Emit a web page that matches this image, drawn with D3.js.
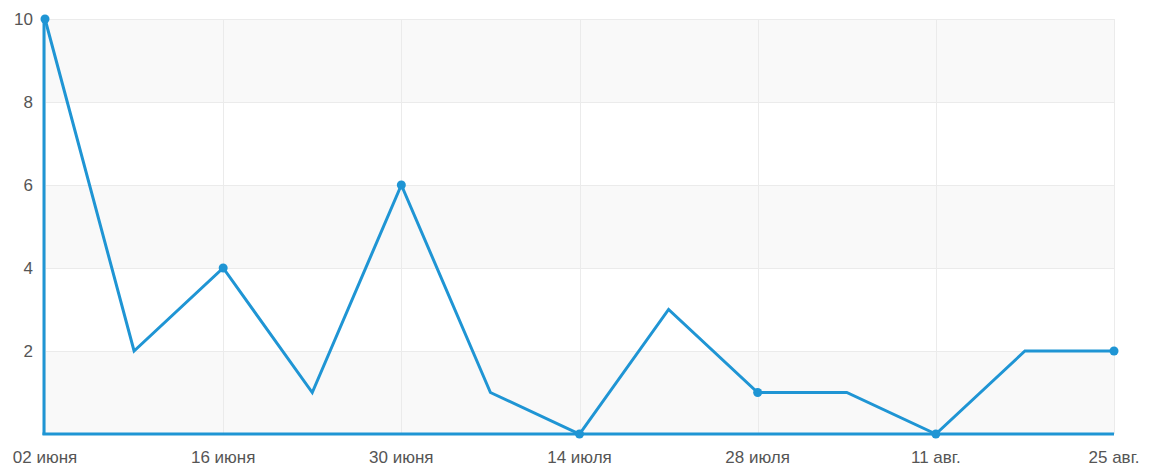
<!doctype html>
<html>
<head>
<meta charset="utf-8">
<script src="https://d3js.org/d3.v7.min.js"></script>
<style>
    body { margin: 0; background: #fff; }
    text { font-family: "Liberation Sans", Arial, sans-serif; }
</style>
</head>
<body>
<svg width="1151" height="468"></svg>
<script>
    // data
    var dates = ["02.06", "09.06", "16.06", "23.06", "30.06", "07.07", "14.07",
                 "21.07", "28.07", "04.08", "11.08", "18.08", "25.08"];
    var values = [10, 2, 4, 1, 6, 1, 0, 3, 1, 1, 0, 2, 2];
    var xTickLabels = ["02 июня", "16 июня", "30 июня", "14 июля", "28 июля", "11 авг.", "25 авг."];
    var yTicks = [2, 4, 6, 8, 10];

    var svg = d3.select("svg"),
        plotLeft = 45, plotRight = 1114, plotTop = 19, plotBottom = 434,
        lineColor = "#1f95d4";

    var x = d3.scalePoint().domain(dates).range([plotLeft, plotRight]);
    var y = d3.scaleLinear().domain([0, 10]).range([plotBottom, plotTop]);

    // alternating bands
    var bands = [[0, 2], [4, 6], [8, 10]];
    svg.selectAll(".band").data(bands).enter().append("rect")
        .attr("x", plotLeft).attr("width", plotRight - plotLeft)
        .attr("y", function(d) { return y(d[1]); })
        .attr("height", function(d) { return y(d[0]) - y(d[1]); })
        .attr("fill", "#f9f9f9");

    // horizontal grid
    svg.selectAll(".hg").data(yTicks).enter().append("line")
        .attr("x1", plotLeft).attr("x2", plotRight)
        .attr("y1", function(d) { return Math.round(y(d)) + 0.5; })
        .attr("y2", function(d) { return Math.round(y(d)) + 0.5; })
        .attr("stroke", "#ebebeb");

    // vertical grid at every second week
    var tickDates = dates.filter(function(d, i) { return i % 2 == 0; });
    svg.selectAll(".vg").data(tickDates).enter().append("line")
        .attr("x1", function(d) { return Math.round(x(d)) + 0.5; })
        .attr("x2", function(d) { return Math.round(x(d)) + 0.5; })
        .attr("y1", plotTop).attr("y2", plotBottom)
        .attr("stroke", "#ebebeb");

    // axis lines
    svg.append("line").attr("x1", plotLeft - 1).attr("x2", plotLeft - 1)
        .attr("y1", plotTop).attr("y2", plotBottom + 1)
        .attr("stroke", lineColor).attr("stroke-width", 3);
    svg.append("line").attr("x1", plotLeft - 2.5).attr("x2", plotRight)
        .attr("y1", plotBottom).attr("y2", plotBottom)
        .attr("stroke", lineColor).attr("stroke-width", 3);

    // y labels
    svg.selectAll(".yl").data(yTicks).enter().append("text")
        .attr("x", 33).attr("y", function(d) { return y(d); })
        .attr("dy", "0.35em")
        .attr("text-anchor", "end")
        .attr("font-size", "17px")
        .attr("fill", "#555")
        .text(function(d) { return d; });

    // x labels
    svg.selectAll(".xl").data(tickDates).enter().append("text")
        .attr("x", function(d) { return x(d); })
        .attr("y", 463)
        .attr("text-anchor", "middle")
        .attr("font-size", "17px")
        .attr("fill", "#555")
        .text(function(d, i) { return xTickLabels[i]; });

    // line
    var line = d3.line()
        .x(function(d, i) { return x(dates[i]); })
        .y(function(d) { return y(d); });
    svg.append("path").datum(values)
        .attr("d", line)
        .attr("fill", "none")
        .attr("stroke", lineColor)
        .attr("stroke-width", 3);

    // dots on labelled weeks
    var dotData = values.map(function(v, i) { return {date: dates[i], value: v}; })
        .filter(function(d, i) { return i % 2 == 0; });
    svg.selectAll(".dot").data(dotData).enter().append("circle")
        .attr("cx", function(d) { return x(d.date); })
        .attr("cy", function(d) { return y(d.value); })
        .attr("r", 4.5)
        .attr("fill", lineColor);
</script>
</body>
</html>
